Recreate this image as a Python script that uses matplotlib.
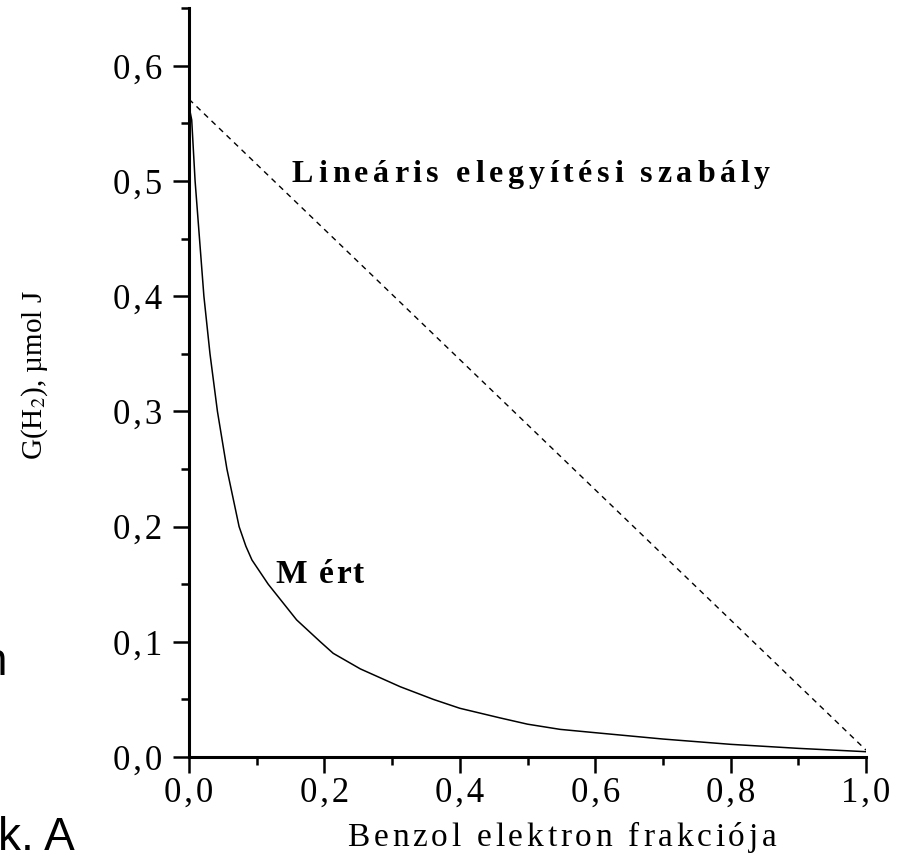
import matplotlib
matplotlib.use("Agg")
import matplotlib.pyplot as plt
from matplotlib.ticker import MultipleLocator, FuncFormatter
from matplotlib.font_manager import FontProperties, findfont, get_font
from matplotlib.transforms import IdentityTransform

plt.rcParams['font.family'] = ['Liberation Serif', 'DejaVu Serif']
plt.rcParams['mathtext.fontset'] = 'stix'

# Mért görbe (leolvasott pontok)
x_mert = [0.0, 0.004, 0.009, 0.022, 0.031, 0.042, 0.056, 0.074, 0.084, 0.093, 0.117,
          0.159, 0.194, 0.213, 0.253, 0.312, 0.361, 0.40, 0.459, 0.50, 0.548,
          0.60, 0.70, 0.80, 0.90, 1.00]
y_mert = [0.565, 0.553, 0.50, 0.40, 0.35, 0.30, 0.25, 0.20, 0.183, 0.171, 0.15,
          0.119, 0.10, 0.090, 0.0765, 0.061, 0.050, 0.0423, 0.034, 0.0285, 0.024,
          0.0211, 0.0156, 0.011, 0.0075, 0.0046]

# Lineáris elegyítési szabály
x_lin = [0.0, 1.0]
y_lin = [0.571, 0.006]

xticks = [0.0, 0.2, 0.4, 0.6, 0.8, 1.0]
yticks = [0.0, 0.1, 0.2, 0.3, 0.4, 0.5, 0.6]

W, H = 897, 860
HAIR = '\u200a'


def fmt(v, pos):
    return HAIR.join(('%.1f' % v).replace('.', ','))


def advances(s, prop):
    font = get_font(findfont(prop))
    font.set_size(prop.get_size_in_points(), 100)
    return [font.load_char(ord(c)).linearHoriAdvance / 65536 for c in s]


def tracked(x, y, s, size, width, weight='normal', ha='left'):
    # szöveg betűközzel, x/y pixelben a bal felső saroktól
    prop = FontProperties(family='Liberation Serif', size=size, weight=weight)
    adv = advances(s, prop)
    track = (width - sum(adv)) / (len(s) - 1)
    x0 = x - width / 2 if ha == 'center' else x
    for c, a in zip(s, adv):
        fig.text(x0, H - y, c, fontproperties=prop, transform=IdentityTransform(),
                 ha='left', va='baseline')
        x0 += a + track


fig = plt.figure(figsize=(W / 100, H / 100), dpi=100)
ax = fig.add_axes([189 / W, 1 - 757 / H, 677 / W, 748.8 / H])

ax.plot(x_mert, y_mert, color='black', lw=1.1)
ax.plot(x_lin, y_lin, color='black', lw=1.0, dashes=(4, 3.5))

ax.set_xlim(0, 1)
ax.set_ylim(0, 0.65)
ax.set_xticks(xticks)
ax.set_yticks(yticks)
ax.xaxis.set_minor_locator(MultipleLocator(0.1))
ax.yaxis.set_minor_locator(MultipleLocator(0.05))
ax.xaxis.set_major_formatter(FuncFormatter(fmt))
ax.yaxis.set_major_formatter(FuncFormatter(fmt))

for s in ['top', 'right']:
    ax.spines[s].set_visible(False)
for s in ['left', 'bottom']:
    ax.spines[s].set_linewidth(2.2)
ax.tick_params(which='major', direction='out', length=11.5, width=1.8, labelsize=25, pad=3)
ax.tick_params(which='minor', direction='out', length=5.8, width=1.8)
ax.tick_params(axis='y', which='major', pad=8)

tracked(292, 182, 'Lineáris elegyítési szabály', 23, 478, weight='bold')
tracked(275, 583, 'M ért', 24, 89, weight='bold')
tracked(562, 846, 'Benzol elektron frakciója', 24, 429, ha='center')

fig.text(35 / W, 1 - 375 / H, 'G(H$_2$), µmol J', fontsize=21,
         rotation=90, ha='center', va='center')

# levágott szövegrészek a lap széléről
fig.text(7 / W, 1 - 675 / H, 'n', fontsize=33, family='Liberation Sans',
         ha='right', va='baseline')
fig.text(-2 / W, 1 - 850 / H, 'k. A', fontsize=33, family='Liberation Sans',
         ha='left', va='baseline')

fig.savefig('out.png', dpi=100)
